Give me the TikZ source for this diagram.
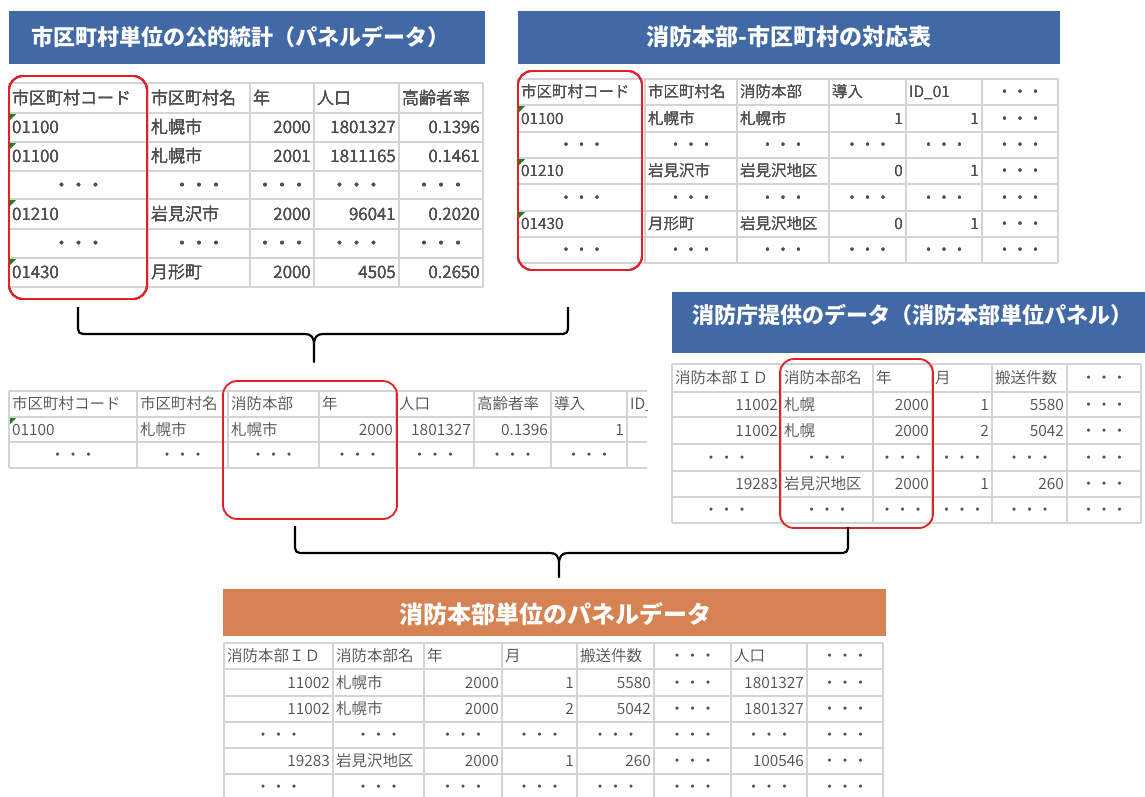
\documentclass[tikz,border=0pt]{standalone}
\usepackage{fontspec}
\newfontfamily\jp{Noto Sans CJK JP}
\IfFontExistsTF{Noto Sans CJK JP DemiLight}{\newfontfamily\jpl{Noto Sans CJK JP DemiLight}}{%
  \IfFontExistsTF{Noto Sans CJK JP Light}{\newfontfamily\jpl{Noto Sans CJK JP Light}}{\newfontfamily\jpl{Noto Sans CJK JP}}}
\definecolor{barblue}{RGB}{64,105,166}
\definecolor{barorange}{RGB}{214,130,82}
\definecolor{gridc}{RGB}{212,212,212}
\definecolor{txt}{RGB}{80,80,80}
\definecolor{redc}{RGB}{226,32,38}
\definecolor{xlgreen}{RGB}{26,128,36}
\newcounter{cellno}
\newcommand\cL[3]{\stepcounter{cellno}\node[anchor=west] (c\arabic{cellno}) at ({#1+3},#2) {#3};}
\newcommand\cR[3]{\stepcounter{cellno}\node[anchor=east] (c\arabic{cellno}) at ({#1-3},#2) {#3};}
\newcommand\cC[4]{\stepcounter{cellno}\node (c\arabic{cellno}) at ({(#1+#2)/2},#3) {#4};}
\newcommand\gtri[2]{\fill[xlgreen] (#1+1,#2+1) -- ++(6,0) -- ++(-6,6) -- cycle;}
\tikzset{
  gridl/.style={draw=gridc, line width=1.3pt},
  cellA/.style={font=\jpl\fontsize{15.5}{15.5}\selectfont, text=txt, inner sep=0pt, text height=13.3pt, text depth=1.9pt},
  cellB/.style={font=\jpl\fontsize{17}{17}\selectfont, text=txt, inner sep=0pt, text height=14.6pt, text depth=2pt},
  titletext/.style={font=\jp\bfseries\fontsize{22}{22}\selectfont, text=white, inner sep=0pt},
  redbox/.style={draw=redc, line width=1.8pt, rounded corners=14pt},
  brace/.style={draw=black, line width=2.2pt, line join=round},
}
\begin{document}
\begin{tikzpicture}[x=1pt,y=-1pt]
\useasboundingbox[fill=white] (0,0) rectangle (1145,796);

% ---------- title bars ----------
\fill[barblue] (9,11) rectangle (485,64);
\node[titletext, anchor=west] (title1) at (31,37) {市区町村単位の公的統計（パネルデータ）};
\fill[barblue] (518,11) rectangle (1060,64);
\node[titletext, font=\jp\bfseries\fontsize{23}{23}\selectfont] (title2) at (789,37) {消防本部-市区町村の対応表};
\fill[barblue] (672,292) rectangle (1150,353);
\node[titletext, anchor=west] (title3) at (692,315) {消防庁提供のデータ（消防本部単位パネル）};
\fill[barorange] (223,589) rectangle (886,636);
\node[titletext, font=\jp\bfseries\fontsize{24}{24}\selectfont] (title4) at (555,614) {消防本部単位のパネルデータ};

% ---------- table 1 (top left) ----------
\foreach \x in {9,148,250,314,399,483} \draw[gridl] (\x,83) -- (\x,287);
\foreach \y in {83,113,142,171,199,229,258,287} \draw[gridl] (9,\y) -- (483,\y);
\foreach \y in {113,142,199,258} \gtri{9}{\y}
\begin{scope}[every node/.style=cellB]
\cL{9}{98}{市区町村コード} \cL{148}{98}{市区町村名} \cL{250}{98}{年} \cL{314}{98}{人口} \cL{399}{98}{高齢者率}
\cL{9}{127.5}{01100} \cL{148}{127.5}{札幌市} \cR{314}{127.5}{2000} \cR{399}{127.5}{1801327} \cR{483}{127.5}{0.1396}
\cL{9}{156.5}{01100} \cL{148}{156.5}{札幌市} \cR{314}{156.5}{2001} \cR{399}{156.5}{1811165} \cR{483}{156.5}{0.1461}
\foreach \a/\b in {9/148,148/250,250/314,314/399,399/483} {\cC{\a}{\b}{185}{・・・}}
\cL{9}{214}{01210} \cL{148}{214}{岩見沢市} \cR{314}{214}{2000} \cR{399}{214}{96041} \cR{483}{214}{0.2020}
\foreach \a/\b in {9/148,148/250,250/314,314/399,399/483} {\cC{\a}{\b}{243.5}{・・・}}
\cL{9}{272.5}{01430} \cL{148}{272.5}{月形町} \cR{314}{272.5}{2000} \cR{399}{272.5}{4505} \cR{483}{272.5}{0.2650}
\end{scope}
\draw[redbox] (9,76) rectangle (147,299);

% ---------- table 2 (top right) ----------
\foreach \x in {518,645,737,829,906,982,1058} \draw[gridl] (\x,79) -- (\x,263);
\foreach \y in {79,105,132,158,184,211,237,263} \draw[gridl] (518,\y) -- (1058,\y);
\foreach \y in {105,158,211} \gtri{518}{\y}
\begin{scope}[every node/.style=cellA]
\cL{518}{92}{市区町村コード} \cL{645}{92}{市区町村名} \cL{737}{92}{消防本部} \cL{829}{92}{導入} \cL{906}{92}{ID\_01} \cC{982}{1058}{92}{・・・}
\cL{518}{118.5}{01100} \cL{645}{118.5}{札幌市} \cL{737}{118.5}{札幌市} \cR{906}{118.5}{1} \cR{982}{118.5}{1} \cC{982}{1058}{118.5}{・・・}
\foreach \a/\b in {518/645,645/737,737/829,829/906,906/982,982/1058} {\cC{\a}{\b}{145}{・・・}}
\cL{518}{171}{01210} \cL{645}{171}{岩見沢市} \cL{737}{171}{岩見沢地区} \cR{906}{171}{0} \cR{982}{171}{1} \cC{982}{1058}{171}{・・・}
\foreach \a/\b in {518/645,645/737,737/829,829/906,906/982,982/1058} {\cC{\a}{\b}{197.5}{・・・}}
\cL{518}{224}{01430} \cL{645}{224}{月形町} \cL{737}{224}{岩見沢地区} \cR{906}{224}{0} \cR{982}{224}{1} \cC{982}{1058}{224}{・・・}
\foreach \a/\b in {518/645,645/737,737/829,829/906,906/982,982/1058} {\cC{\a}{\b}{250}{・・・}}
\end{scope}
\draw[redbox] (518,71) rectangle (642,270);

% ---------- brace 1 ----------
\coordinate (b1l) at (78,307);
\coordinate (b1r) at (568,307);
\coordinate (b1t) at (314,362);
\draw[brace] (b1l) -- (78,329) .. controls (78,332) and (80,334) .. (83,334) -- (305,334)
  .. controls (311,334) and (314,337) .. (314,345) -- (b1t) -- (314,345)
  .. controls (314,337) and (317,334) .. (323,334) -- (563,334)
  .. controls (566,334) and (568,332) .. (568,329) -- (b1r);

% ---------- table 3 (middle left, clipped) ----------
\begin{scope}
\clip (0,380) rectangle (647,472);
\foreach \x in {9,137,228,319,396,474,551,627} \draw[gridl] (\x,391) -- (\x,468);
\foreach \y in {391,417,442,468} \draw[gridl] (9,\y) -- (700,\y);
\gtri{9}{417}
\begin{scope}[every node/.style=cellA]
\cL{9}{404}{市区町村コード} \cL{137}{404}{市区町村名} \cL{228}{404}{消防本部} \cL{319}{404}{年} \cL{396}{404}{人口} \cL{474}{404}{高齢者率} \cL{551}{404}{導入} \cL{627}{404}{ID\_01}
\cL{9}{429.5}{01100} \cL{137}{429.5}{札幌市} \cL{228}{429.5}{札幌市} \cR{396}{429.5}{2000} \cR{474}{429.5}{1801327} \cR{551}{429.5}{0.1396} \cR{627}{429.5}{1} \cR{704}{429.5}{1}
\foreach \a/\b in {9/137,137/228,228/319,319/396,396/474,474/551,551/627,627/704} {\cC{\a}{\b}{455}{・・・}}
\end{scope}
\end{scope}
\draw[redbox] (223,381) rectangle (397,519);

% ---------- table 4 (middle right) ----------
\foreach \x in {672,781,873,932,992,1067,1141} \draw[gridl] (\x,364) -- (\x,523);
\foreach \y in {364,392,417,444,471,497,523} \draw[gridl] (672,\y) -- (1141,\y);
\begin{scope}[every node/.style=cellA]
\cL{672}{378}{消防本部ＩＤ} \cL{781}{378}{消防本部名} \cL{873}{378}{年} \cL{932}{378}{月} \cL{992}{378}{搬送件数} \cC{1067}{1141}{378}{・・・}
\cR{781}{404.5}{11002} \cL{781}{404.5}{札幌} \cR{932}{404.5}{2000} \cR{992}{404.5}{1} \cR{1067}{404.5}{5580} \cC{1067}{1141}{404.5}{・・・}
\cR{781}{430.5}{11002} \cL{781}{430.5}{札幌} \cR{932}{430.5}{2000} \cR{992}{430.5}{2} \cR{1067}{430.5}{5042} \cC{1067}{1141}{430.5}{・・・}
\foreach \a/\b in {672/781,781/873,873/932,932/992,992/1067,1067/1141} {\cC{\a}{\b}{457.5}{・・・}}
\cR{781}{484}{19283} \cL{781}{484}{岩見沢地区} \cR{932}{484}{2000} \cR{992}{484}{1} \cR{1067}{484}{260} \cC{1067}{1141}{484}{・・・}
\foreach \a/\b in {672/781,781/873,873/932,932/992,992/1067,1067/1141} {\cC{\a}{\b}{510}{・・・}}
\end{scope}
\draw[redbox] (780,359) rectangle (933,528);

% ---------- brace 2 ----------
\coordinate (b2l) at (295,526);
\coordinate (b2r) at (848,527);
\coordinate (b2t) at (559,577);
\draw[brace] (b2l) -- (295,548) .. controls (295,551) and (297,553) .. (300,553) -- (550,553)
  .. controls (556,553) and (559,556) .. (559,564) -- (b2t) -- (559,564)
  .. controls (559,556) and (562,553) .. (568,553) -- (843,553)
  .. controls (846,553) and (848,551) .. (848,548) -- (b2r);

% ---------- table 5 (bottom) ----------
\foreach \x in {224,333,424,502,577,654,731,807,883} \draw[gridl] (\x,643) -- (\x,800);
\foreach \y in {643,669,696,722,748,774} \draw[gridl] (224,\y) -- (883,\y);
\begin{scope}[every node/.style=cellA]
\cL{224}{656}{消防本部ＩＤ} \cL{333}{656}{消防本部名} \cL{424}{656}{年} \cL{502}{656}{月} \cL{577}{656}{搬送件数} \cC{654}{731}{656}{・・・} \cL{731}{656}{人口} \cC{807}{883}{656}{・・・}
\cR{333}{682.5}{11002} \cL{333}{682.5}{札幌市} \cR{502}{682.5}{2000} \cR{577}{682.5}{1} \cR{654}{682.5}{5580} \cC{654}{731}{682.5}{・・・} \cR{807}{682.5}{1801327} \cC{807}{883}{682.5}{・・・}
\cR{333}{709}{11002} \cL{333}{709}{札幌市} \cR{502}{709}{2000} \cR{577}{709}{2} \cR{654}{709}{5042} \cC{654}{731}{709}{・・・} \cR{807}{709}{1801327} \cC{807}{883}{709}{・・・}
\foreach \a/\b in {224/333,333/424,424/502,502/577,577/654,654/731,731/807,807/883} {\cC{\a}{\b}{735}{・・・}}
\cR{333}{761}{19283} \cL{333}{761}{岩見沢地区} \cR{502}{761}{2000} \cR{577}{761}{1} \cR{654}{761}{260} \cC{654}{731}{761}{・・・} \cR{807}{761}{100546} \cC{807}{883}{761}{・・・}
\foreach \a/\b in {224/333,333/424,424/502,502/577,577/654,654/731,731/807,807/883} {\cC{\a}{\b}{787}{・・・}}
\end{scope}
\end{tikzpicture}
\end{document}
